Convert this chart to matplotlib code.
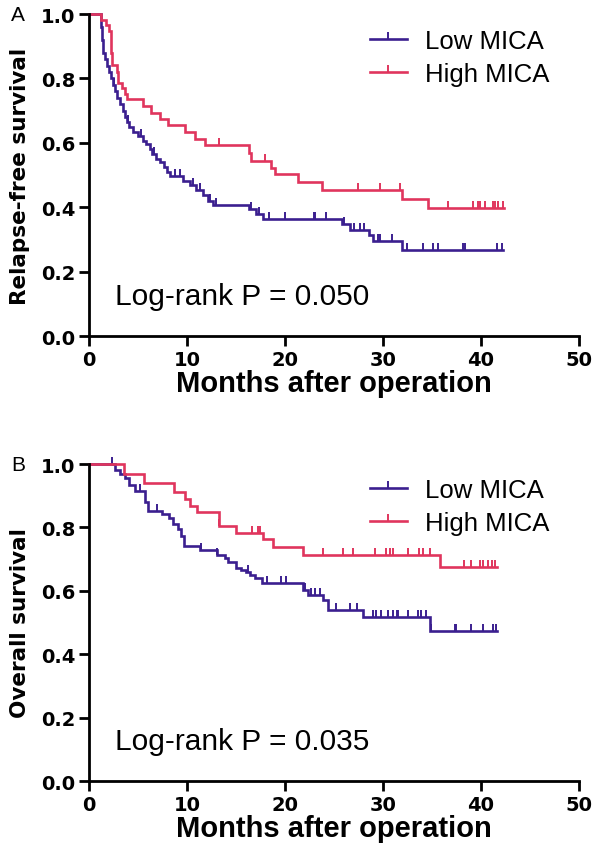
import matplotlib
matplotlib.use("Agg")
import matplotlib.pyplot as plt

# panel A: relapse-free survival (event time, survival after the step)
rfs_low_t = [0, 1.2, 1.3, 1.4, 1.6, 1.8, 2.0, 2.2, 2.4, 2.6, 2.8, 3.1, 3.4, 3.6, 3.9, 4.1, 4.5, 5.0,
             5.5, 5.8, 6.2, 6.4, 6.8, 7.2, 7.6, 7.9, 8.2, 9.6, 10.3, 10.9, 11.6, 12.1, 12.6, 16.3,
             17.0, 17.7, 25.8, 26.6, 28.6, 29.0, 31.9, 42.2]
rfs_low_s = [1.0, 0.96, 0.92, 0.88, 0.86, 0.84, 0.82, 0.80, 0.78, 0.76, 0.74, 0.72, 0.70, 0.68, 0.665,
             0.65, 0.635, 0.62, 0.605, 0.595, 0.58, 0.565, 0.55, 0.54, 0.525, 0.51, 0.497, 0.482,
             0.47, 0.455, 0.437, 0.42, 0.407, 0.395, 0.38, 0.362, 0.347, 0.33, 0.314, 0.295, 0.268, 0.268]
rfs_low_cens = [2.5, 4.0, 5.3, 6.6, 8.8, 9.3, 10.6, 11.3, 12.3, 12.9, 16.5, 17.3, 18.4, 20.0, 22.9, 23.1,
                24.2, 26.0, 27.0, 27.6, 28.1, 29.5, 29.7, 30.9, 32.4, 34.1, 35.1, 35.6, 38.2, 38.4, 41.6, 42.1]

rfs_high_t = [0, 1.2, 1.7, 2.0, 2.2, 2.25, 2.3, 2.8, 2.95, 3.3, 3.6, 3.9, 5.5, 6.3, 7.2, 8.0, 9.8, 10.8,
              11.8, 16.3, 16.5, 18.6, 18.95, 21.3, 23.8, 31.9, 34.6, 42.4]
rfs_high_s = [1.0, 0.983, 0.967, 0.948, 0.93, 0.88, 0.842, 0.821, 0.785, 0.769, 0.751, 0.735, 0.714, 0.693,
              0.675, 0.654, 0.633, 0.612, 0.592, 0.567, 0.545, 0.523, 0.502, 0.478, 0.453, 0.426, 0.398, 0.398]
rfs_high_cens = [13.2, 17.9, 27.4, 29.7, 31.7, 36.6, 39.2, 39.7, 39.9, 40.4, 41.2, 41.4, 41.7, 42.2]

# panel B: overall survival
os_low_t = [0, 2.6, 3.1, 3.6, 4.1, 4.7, 5.7, 6.0, 7.4, 8.1, 8.6, 9.1, 9.4, 9.7, 11.3, 13.0, 13.9, 14.2,
            15.0, 15.5, 16.0, 16.4, 16.9, 17.6, 21.8, 22.3, 23.9, 24.4, 28.0, 34.8, 41.6]
os_low_s = [1.0, 0.98, 0.97, 0.955, 0.935, 0.916, 0.88, 0.852, 0.842, 0.831, 0.81, 0.794, 0.772, 0.74,
            0.73, 0.714, 0.704, 0.692, 0.671, 0.666, 0.66, 0.65, 0.639, 0.626, 0.602, 0.586, 0.57, 0.538,
            0.518, 0.474, 0.474]
os_low_cens = [2.3, 5.2, 6.9, 11.4, 13.0, 16.2, 18.1, 19.6, 20.1, 22.0, 22.6, 23.1, 23.6, 25.2, 26.6,
               27.3, 29.0, 29.3, 29.8, 30.5, 31.0, 31.4, 31.5, 32.6, 33.6, 33.9, 34.4, 34.9, 37.3, 37.5,
               39.0, 40.2, 41.2, 41.5]

os_high_t = [0, 3.5, 5.6, 8.7, 9.8, 10.3, 11.0, 13.2, 15.0, 17.75, 18.8, 21.8, 35.8, 41.6]
os_high_s = [1.0, 0.97, 0.94, 0.911, 0.89, 0.868, 0.849, 0.804, 0.783, 0.762, 0.738, 0.714, 0.674, 0.674]
os_high_cens = [13.2, 16.6, 17.2, 17.4, 23.9, 25.9, 26.9, 29.2, 30.3, 30.7, 31.0, 32.6, 33.7, 34.1, 34.8,
                38.3, 39.0, 39.9, 40.2, 40.7, 41.1, 41.4]

low_color = "#3b1f8f"
high_color = "#e0355d"


def surv_at(times, surv, t):
    s = surv[0]
    for ti, si in zip(times, surv):
        if ti <= t:
            s = si
    return s


def km_panel(ax, low, high, ylabel, ptext, letter):
    for (t, s, cens), color, label in [(low, low_color, "Low MICA"), (high, high_color, "High MICA")]:
        ax.step(t, s, where="post", color=color, lw=1.9, solid_joinstyle="miter", clip_on=False)
        ax.plot(cens, [surv_at(t, s, c) for c in cens], ls="none", marker=2,
                ms=5, mew=1.4, color=color, clip_on=False)
        ax.plot([], [], color=color, lw=1.9, marker=2, ms=5, mew=1.4,
                markevery=[1], label=label)
    ax.set_xlim(0, 50)
    ax.set_ylim(0, 1.0)
    ax.set_xticks([0, 10, 20, 30, 40, 50])
    ax.set_yticks([0.0, 0.2, 0.4, 0.6, 0.8, 1.0])
    ax.set_yticklabels(["0.0", "0.2", "0.4", "0.6", "0.8", "1.0"])
    for side in ["top", "right"]:
        ax.spines[side].set_visible(False)
    for side in ["left", "bottom"]:
        ax.spines[side].set_linewidth(2.0)
    ax.tick_params(width=2.0, length=7, direction="out", labelsize=14, pad=3)
    for lab in ax.get_xticklabels() + ax.get_yticklabels():
        lab.set_fontfamily("DejaVu Sans")
        lab.set_fontweight("bold")
    ax.set_xlabel("Months after operation", fontsize=21, fontweight="bold",
                  family="Liberation Sans", labelpad=0)
    ax.set_ylabel(ylabel, fontsize=15.5, fontweight="bold", family="Liberation Sans Narrow",
                  labelpad=8)
    ax.text(2.6, 0.10, ptext, fontsize=21.5, family="Liberation Sans", va="baseline")
    ax.text(-0.16, 1.0, letter, transform=ax.transAxes, fontsize=15,
            family="Liberation Sans", va="center", ha="left")
    ax.legend(loc="upper left", bbox_to_anchor=(0.573, 0.955), frameon=False,
              prop={"family": "Liberation Sans", "size": 18.5}, handlelength=1.45,
              handletextpad=0.7, borderpad=0, borderaxespad=0, labelspacing=0.35)


fig = plt.figure(figsize=(6.0, 8.62), dpi=100)
ax_a = fig.add_axes([0.1488, 0.609, 0.816, 0.3735])
ax_b = fig.add_axes([0.1488, 0.0928, 0.816, 0.3677])

km_panel(ax_a, (rfs_low_t, rfs_low_s, rfs_low_cens), (rfs_high_t, rfs_high_s, rfs_high_cens),
         "Relapse-free survival", "Log-rank P = 0.050", "A")
km_panel(ax_b, (os_low_t, os_low_s, os_low_cens), (os_high_t, os_high_s, os_high_cens),
         "Overall survival", "Log-rank P = 0.035", "B")

fig.savefig("out.png", dpi=100)
